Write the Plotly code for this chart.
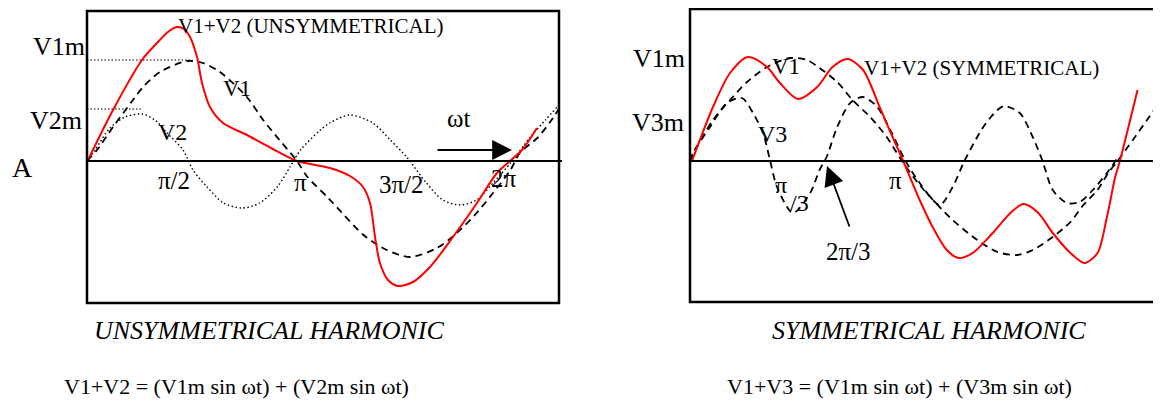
import plotly.graph_objects as go

W, H = 1161, 403
OX, OY = 8, 8  # page body margin of the html page

# ---------------- data ----------------
# x: ωt in degrees, y: amplitude relative to V1m (= 1)

# Left panel - unsymmetrical harmonic
left_v1_x = [0, 8.6, 22.3, 39.4, 48.0, 62.6, 85.7, 99.4, 114, 137, 151, 165, 180, 189, 206, 214,
             237, 257, 277, 300, 317, 334, 348, 363, 371, 386, 397, 405]
left_v1_y = [0, 0.11, 0.34, 0.61, 0.74, 0.89, 1.00, 0.98, 0.89, 0.64, 0.41, 0.21, 0, -0.16, -0.36, -0.46,
             -0.74, -0.89, -0.96, -0.87, -0.72, -0.52, -0.32, -0.09, 0.08, 0.23, 0.39, 0.53]

left_v2_x = [0, 6.9, 19.7, 32.6, 47.1, 58.3, 68.6, 82.3, 90.8, 103, 117, 133, 148, 163, 174, 183,
             200, 208, 225, 245, 260, 274, 291, 305, 320, 334, 348, 363, 380, 393, 403]
left_v2_y = [0, 0.11, 0.33, 0.44, 0.47, 0.41, 0.28, 0.11, -0.09, -0.26, -0.42, -0.47, -0.42, -0.26, -0.06, 0.11,
             0.31, 0.38, 0.46, 0.38, 0.21, 0.04, -0.22, -0.39, -0.44, -0.39, -0.22, -0.02, 0.24, 0.41, 0.54]

left_sum_x = [1.7, 22.3, 47.1, 60.0, 69.4, 77.1, 83.1, 88.3, 94.3, 98.6, 105.4, 116.6, 137.1, 157.7, 180.0,
              208.3, 225.4, 236.6, 242.6, 246.9, 251.1, 258.0, 266.6, 279.4, 294.0, 313.7, 334.3, 351.4,
              362.6, 372.9, 385.7]
left_sum_y = [0.03, 0.51, 1.01, 1.18, 1.29, 1.34, 1.32, 1.24, 1.04, 0.78, 0.54, 0.38, 0.26, 0.13, 0,
              -0.07, -0.15, -0.26, -0.42, -0.76, -1.02, -1.19, -1.25, -1.21, -1.06, -0.76, -0.42, -0.12,
              0, 0.11, 0.33]

v1m_level = 1.01
v2m_level = 0.52
v1m_end = 88
v2m_end = 48

# Right panel - symmetrical harmonic
right_v1_x = [0, 5.9, 19.5, 34, 48.4, 65.4, 84.9, 99.3, 110, 125, 138, 153, 167, 180, 195, 223, 244,
              261, 278, 291, 308, 323, 334, 346, 355, 363, 376, 388, 400]
right_v1_y = [0, 0.14, 0.41, 0.61, 0.79, 0.94, 1.03, 1.01, 0.93, 0.79, 0.61, 0.44, 0.24, 0, -0.24, -0.59,
              -0.79, -0.91, -0.94, -0.89, -0.76, -0.61, -0.44, -0.29, -0.12, 0, 0.21, 0.41, 0.61]

right_v3_x = [0, 2.5, 17, 31.4, 44.1, 53.5, 62, 67.9, 73.9, 87.4, 102, 110, 116, 125, 136, 147, 159,
              170, 183, 195, 212, 223, 233, 249, 261, 267, 280, 291, 299, 308, 320, 331, 342, 354, 363]
right_v3_y = [0, 0.08, 0.34, 0.58, 0.63, 0.48, 0.28, 0.01, -0.26, -0.52, -0.32, -0.09, 0.04, 0.34, 0.58,
              0.64, 0.54, 0.31, 0, -0.22, -0.44, -0.26, 0, 0.34, 0.51, 0.55, 0.48, 0.24, 0.01, -0.29,
              -0.42, -0.41, -0.29, -0.12, 0.03]

right_sum_x = [1.7, 19.5, 34, 49.2, 65.4, 76.4, 91.7, 108, 121, 134, 147, 161, 172, 181, 195, 206, 218,
               228, 240, 257, 272, 283, 295, 308, 323, 335, 346, 354, 361, 365, 371, 380]
right_sum_y = [0, 0.54, 0.88, 1.04, 0.94, 0.78, 0.62, 0.74, 0.94, 1.02, 0.91, 0.54, 0.24, 0, -0.39, -0.66,
               -0.89, -0.97, -0.92, -0.72, -0.52, -0.43, -0.51, -0.72, -0.92, -1.02, -0.92, -0.56, -0.16,
               0, 0.28, 0.71]

left_tick_labels = ["π/2", "π", "3π/2", "2π"]
right_tick_labels = ["π", "2π/3"]

# ---------------- figure ----------------
FONT = "Liberation Serif, Times New Roman, serif"
RED = "#ff0000"


def P(px, py):
    """screen pixel (reference picture) -> paper coordinates"""
    return (px - OX) / W, 1 - (py - OY) / H


def PX(px):
    return (px - OX) / W


def PY(py):
    return 1 - (py - OY) / H


fig = go.Figure()

dash_style = dict(color="black", width=1.8, dash="7px,5px", shape="spline", smoothing=0.8)
dot_style = dict(color="black", width=1.4, dash="1.5px,2.5px", shape="spline", smoothing=0.8)
red_style = dict(color=RED, width=2, shape="spline", smoothing=0.8)

fig.add_trace(go.Scatter(x=[0, v1m_end], y=[v1m_level, v1m_level], mode="lines",
                         line=dict(color="black", width=1.2, dash="1.5px,2px"), xaxis="x", yaxis="y"))
fig.add_trace(go.Scatter(x=[0, v2m_end], y=[v2m_level, v2m_level], mode="lines",
                         line=dict(color="black", width=1.2, dash="1.5px,2px"), xaxis="x", yaxis="y"))
fig.add_trace(go.Scatter(x=left_v2_x, y=left_v2_y, mode="lines", line=dot_style, xaxis="x", yaxis="y"))
fig.add_trace(go.Scatter(x=left_v1_x, y=left_v1_y, mode="lines", line=dash_style, xaxis="x", yaxis="y"))
fig.add_trace(go.Scatter(x=left_sum_x, y=left_sum_y, mode="lines", line=red_style, xaxis="x", yaxis="y"))

fig.add_trace(go.Scatter(x=right_v3_x, y=right_v3_y, mode="lines", line=dash_style, xaxis="x2", yaxis="y2"))
fig.add_trace(go.Scatter(x=right_v1_x, y=right_v1_y, mode="lines", line=dash_style, xaxis="x2", yaxis="y2"))
fig.add_trace(go.Scatter(x=right_sum_x, y=right_sum_y, mode="lines", line=red_style, xaxis="x2", yaxis="y2"))

ax_common = dict(showgrid=False, zeroline=False, showticklabels=False, showline=False, ticks="", fixedrange=True)

fig.update_layout(
    width=W, height=H,
    margin=dict(l=0, r=0, t=0, b=0),
    paper_bgcolor="white", plot_bgcolor="rgba(0,0,0,0)",
    showlegend=False,
    xaxis=dict(domain=[PX(87), PX(559)], range=[0, 404.6], **ax_common),
    yaxis=dict(domain=[PY(303), PY(11)], range=[-1.42, 1.50], **ax_common),
    xaxis2=dict(domain=[PX(690), PX(1161)], range=[0, 399.9], anchor="y2", **ax_common),
    yaxis2=dict(domain=[PY(302), PY(9)], range=[-1.41, 1.52], anchor="x2", **ax_common),
)

shapes = []
# frames
x0, y1 = P(87, 11)
x1, y0 = P(559, 303)
shapes.append(dict(type="rect", xref="paper", yref="paper", x0=x0, x1=x1, y0=y0, y1=y1,
                   line=dict(color="black", width=2.5)))
x0, y1 = P(690, 9)
x1, y0 = P(1185, 302)
shapes.append(dict(type="rect", xref="paper", yref="paper", x0=x0, x1=x1, y0=y0, y1=y1,
                   line=dict(color="black", width=2.5)))
# base lines
a, b = P(87, 161)
c, _ = P(562, 161)
shapes.append(dict(type="line", xref="paper", yref="paper", x0=a, x1=c, y0=b, y1=b,
                   line=dict(color="black", width=2)))
a, b = P(690, 161)
c, _ = P(1175, 161)
shapes.append(dict(type="line", xref="paper", yref="paper", x0=a, x1=c, y0=b, y1=b,
                   line=dict(color="black", width=2)))
fig.update_layout(shapes=shapes)

ann = []


def text(s, px, py, size, xanchor="center", italic=False):
    x, y = P(px, py)
    ann.append(dict(text=s, x=x, y=y, xref="paper", yref="paper", showarrow=False,
                    xanchor=xanchor, yanchor="middle",
                    font=dict(family=FONT, size=size, color="black",
                              style="italic" if italic else "normal")))


# left panel labels
text("V1m", 87, 46, 26, xanchor="right")
text("V2m", 84, 121, 26, xanchor="right")
text("A", 22, 167, 28)
text("V1+V2 (UNSYMMETRICAL)", 311, 26, 21)
text("V1", 237, 88, 23)
text("V2", 172, 132, 24)
text("ωt", 459, 118, 25)
for lab, px, py in zip(left_tick_labels, [174, 300, 401, 504], [181, 182, 184, 178]):
    text(lab, px, py, 25)
text("UNSYMMETRICAL HARMONIC", 269, 330, 26, italic=True)
text("V1+V2 = (V1m sin ωt) + (V2m sin ωt)", 236, 386, 22)

# right panel labels
text("V1m", 687, 58, 26, xanchor="right")
text("V3m", 686, 123, 26, xanchor="right")
text("V1", 786, 67, 23)
text("V1+V2 (SYMMETRICAL)", 981, 68, 21)
text("V3", 772, 134, 24)
text(right_tick_labels[0], 895, 181, 25)
text("π", 781, 185, 24)
text("/3", 799, 203, 24)
text(right_tick_labels[1], 848, 251, 25)
text("SYMMETRICAL HARMONIC", 929, 330, 26, italic=True)
text("V1+V3 = (V1m sin ωt) + (V3m sin ωt)", 899, 386, 22)

# arrows
tx, ty = P(512, 150)
ann.append(dict(x=tx, y=ty, xref="paper", yref="paper", ax=-76, ay=0, text="", showarrow=True,
                arrowhead=2, arrowsize=2.2, arrowwidth=1.8, arrowcolor="black", standoff=0))
tx, ty = P(827, 166)
ann.append(dict(x=tx, y=ty, xref="paper", yref="paper", ax=23, ay=62, text="", showarrow=True,
                arrowhead=2, arrowsize=2.2, arrowwidth=1.8, arrowcolor="black", standoff=0))

fig.update_layout(annotations=ann)

fig.write_html("out.html")
